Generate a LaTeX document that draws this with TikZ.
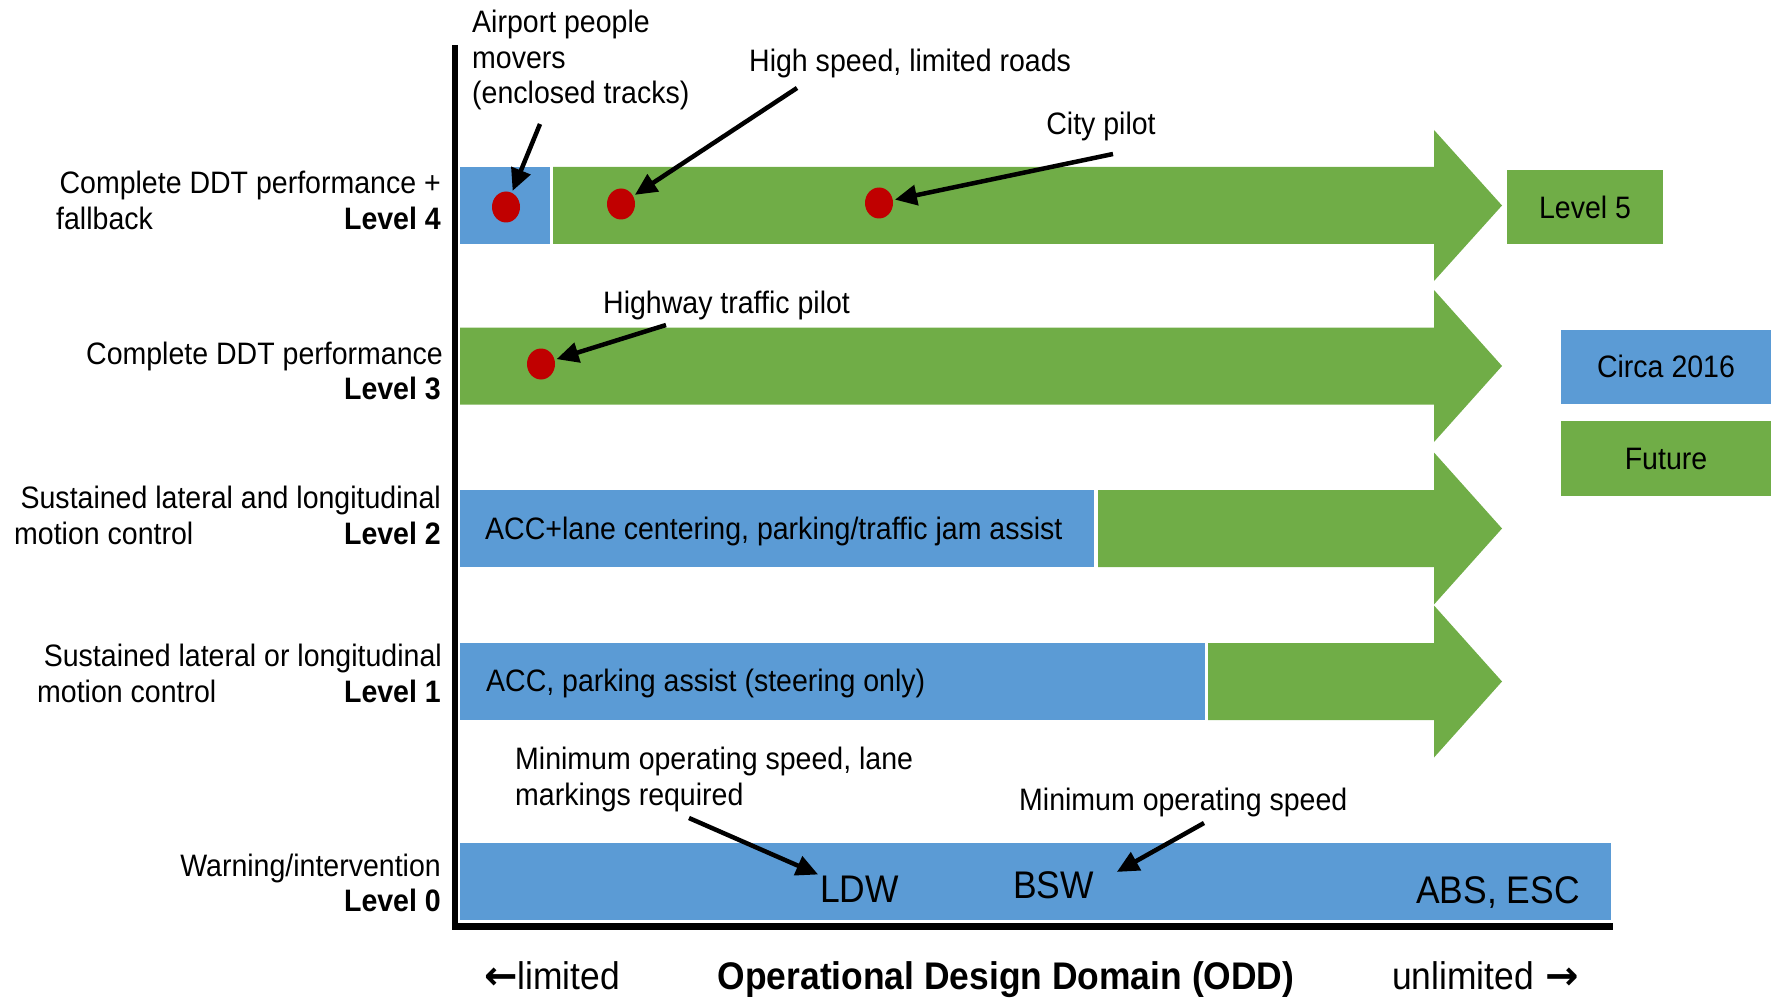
\documentclass[tikz,border=0pt]{standalone}
\usepackage{fontspec}
\setmainfont{Liberation Sans}[FakeStretch=0.92]
\newfontfamily\arrowfont{DejaVu Sans}
\usetikzlibrary{arrows.meta, shapes.geometric}
\definecolor{oddblue}{RGB}{91,155,213}
\definecolor{oddgreen}{RGB}{112,173,71}
\definecolor{oddred}{RGB}{192,0,0}

\begin{document}
\begin{tikzpicture}[x=1pt, y=-1pt,
    lbl/.style={font=\fontsize{31}{35.6}\selectfont, inner sep=0pt},
    lvl/.style={font=\fontsize{31}{35.6}\selectfont\bfseries, inner sep=0pt},
    biglbl/.style={font=\fontsize{38.5}{44}\selectfont, inner sep=0pt},
    key/.style={lbl, minimum height=74pt},
    dot/.style={ellipse, fill=oddred, minimum width=28pt, minimum height=31pt, inner sep=0pt},
    callout/.style={-{Triangle[length=22pt, width=20pt]}, line width=4.5pt, shorten >=2pt}]
    \useasboundingbox (0, 0) rectangle (1771, 1000);
    % Level 4
    \fill [oddblue]    (460, 167) rectangle (550, 244);
    \fill [oddgreen]   (553, 167) -- (1434, 167) -- (1434, 130) -- (1502, 205.5)
                       -- (1434, 281) -- (1434, 244) -- (553, 244) -- cycle;
    % Level 3
    \fill [oddgreen]   (460, 327.5) -- (1434, 327.5) -- (1434, 290) -- (1502, 366)
                       -- (1434, 442) -- (1434, 404.5) -- (460, 404.5) -- cycle;
    % Level 2
    \fill [oddblue]    (460, 490) rectangle (1094, 567);
    \fill [oddgreen]   (1098, 490) -- (1434, 490) -- (1434, 452.5) -- (1502, 528.5)
                       -- (1434, 604.5) -- (1434, 567) -- (1098, 567) -- cycle;
    % Level 1
    \fill [oddblue]    (460, 643) rectangle (1205, 720);
    \fill [oddgreen]   (1208, 643) -- (1434, 643) -- (1434, 605.5) -- (1502, 681.5)
                       -- (1434, 757.5) -- (1434, 720) -- (1208, 720) -- cycle;
    % Level 0
    \fill [oddblue]    (460, 843) rectangle (1611, 920);
    % axes
    \draw [line width=6pt]   (455, 45) -- (455, 929);
    \draw [line width=7pt]   (452, 926) -- (1613, 926);
    % key
    \node [key, fill=oddgreen, minimum width=156pt] (lvlFive) at (1585, 207.5) {Level 5};
    \node [key, fill=oddblue, minimum width=210pt]  (circa)   at (1666, 366.5) {Circa 2016};
    \node [key, fill=oddgreen, minimum width=210pt, minimum height=75pt] (future) at (1666, 458.5) {Future};
    % level names
    \node [lbl, anchor=base east] (descFour)  at (441, 194) {Complete DDT performance +};
    \node [lbl, anchor=base west] (descFourB) at (56, 230)  {fallback};
    \node [lvl, anchor=base east] (lvlFour)   at (441, 230) {Level 4};
    \node [lbl, anchor=base east] (descThree) at (443, 364) {Complete DDT performance};
    \node [lvl, anchor=base east] (lvlThree)  at (441, 399) {Level 3};
    \node [lbl, anchor=base east] (descTwo)   at (441, 508) {Sustained lateral and longitudinal};
    \node [lbl, anchor=base west] (descTwoB)  at (14, 544)  {motion control};
    \node [lvl, anchor=base east] (lvlTwo)    at (441, 544) {Level 2};
    \node [lbl, anchor=base east] (descOne)   at (442, 666) {Sustained lateral or longitudinal};
    \node [lbl, anchor=base west] (descOneB)  at (37, 702)  {motion control};
    \node [lvl, anchor=base east] (lvlOne)    at (441, 702) {Level 1};
    \node [lbl, anchor=base east] (descZero)  at (441, 876) {Warning/intervention};
    \node [lvl, anchor=base east] (lvlZero)   at (441, 911) {Level 0};
    % bar texts
    \node [lbl, anchor=base west] (accLane) at (485, 539) {ACC+lane centering, parking/traffic jam assist};
    \node [lbl, anchor=base west] (accPark) at (486, 691) {ACC, parking assist (steering only)};
    \node [biglbl, anchor=base west] (ldw)  at (820, 902)  {LDW};
    \node [biglbl, anchor=base west] (bsw)  at (1013, 898) {BSW};
    \node [biglbl, anchor=base west] (abs)  at (1416, 903) {ABS, ESC};
    % bottom
    \node [biglbl, anchor=base west] (limited)   at (484, 989)  {{\arrowfont\bfseries\fontsize{40}{44}\selectfont ←}limited};
    \node [biglbl, anchor=base, font=\fontsize{38.5}{44}\selectfont\bfseries] (odd) at (1006, 989) {Operational Design Domain (ODD)};
    \node [biglbl, anchor=base west] (unlimited) at (1392, 989) {unlimited\hspace{12pt}{\arrowfont\bfseries\fontsize{40}{44}\selectfont →}};
    % examples
    \node [dot] (dotApm)  at (506, 207) {};
    \node [dot] (dotHsr)  at (621, 204) {};
    \node [dot] (dotCity) at (879, 203) {};
    \node [dot] (dotHwy)  at (541, 364) {};
    \node [lbl, anchor=north west, align=left] (apm) at (472, 10) {Airport people\\movers\\(enclosed tracks)};
    \node [lbl, anchor=base west] (hsr)  at (749, 72)  {High speed, limited roads};
    \node [lbl, anchor=base]      (city) at (1101, 135) {City pilot};
    \node [lbl, anchor=base west] (hwy)  at (603, 313) {Highway traffic pilot};
    \node [lbl, anchor=north west, align=left] (mosLane) at (515, 747) {Minimum operating speed, lane\\markings required};
    \node [lbl, anchor=base west] (mos)  at (1019, 810) {Minimum operating speed};
    \coordinate (apmTail)  at (540, 124);
    \coordinate (hsrTail)  at (797, 88);
    \coordinate (cityTail) at (1113, 154);
    \coordinate (hwyTail)  at (666, 325);
    \coordinate (ldwTail)  at (689, 818);
    \coordinate (bswTail)  at (1204, 823);
    \draw [callout] (apmTail)  -- (dotApm);
    \draw [callout] (hsrTail)  -- (dotHsr);
    \draw [callout] (cityTail) -- (dotCity);
    \draw [callout] (hwyTail)  -- (dotHwy);
    \draw [callout] (ldwTail)  -- (ldw.north west);
    \draw [callout] (bswTail)  -- ([xshift=21pt, yshift=-2pt]bsw.north east);
\end{tikzpicture}
\end{document}
